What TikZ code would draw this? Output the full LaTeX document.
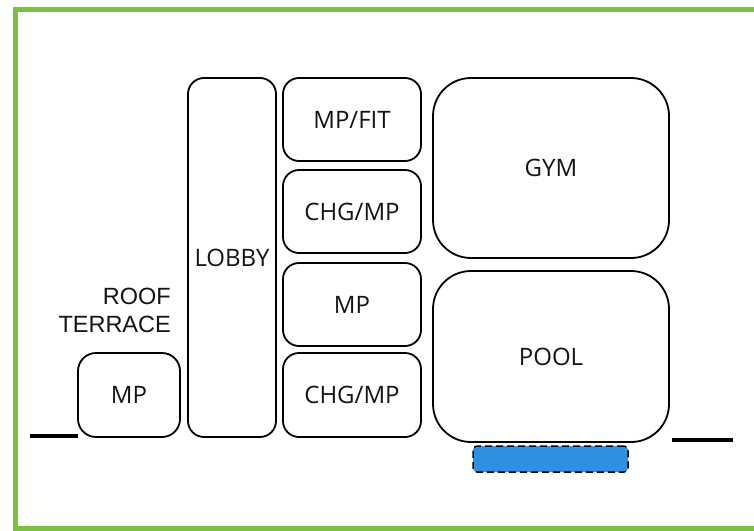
\documentclass[tikz,border=0pt]{standalone}
\usepackage{fontspec}
\setmainfont{Open Sans}
\newfontfamily\arialf{Liberation Sans}
\definecolor{framegreen}{HTML}{7CC142}
\definecolor{poolblue}{HTML}{2F8FE3}
\begin{document}
\begin{tikzpicture}[x=1pt,y=-1pt,
  room/.style={draw=black,line width=1.8pt,rectangle,inner sep=0pt,outer sep=0pt,
    font=\fontsize{24}{28}\selectfont,text=black!92},
  wallline/.style={line width=3.5pt,black}]
\useasboundingbox (0,0) rectangle (754,530);
\fill[white] (0,0) rectangle (754,530);
\draw[framegreen,line width=5pt] (15.5,9.5) rectangle (770,528);
% rooms
\node[room,rounded corners=18pt,minimum width=102pt,minimum height=84pt] (mpa) at (129,395) {MP};
\node[room,rounded corners=16pt,minimum width=88pt,minimum height=359pt] (lobby) at (232,257.5) {LOBBY};
\node[room,rounded corners=16pt,minimum width=138pt,minimum height=83pt] (mpfit) at (352,119.5) {MP/FIT};
\node[room,rounded corners=16pt,minimum width=138pt,minimum height=83pt] (chga) at (352,211.5) {CHG/MP};
\node[room,rounded corners=16pt,minimum width=138pt,minimum height=83pt] (mpb) at (352,304.5) {MP};
\node[room,rounded corners=16pt,minimum width=138pt,minimum height=84pt] (chgb) at (352,395) {CHG/MP};
\node[room,rounded corners=38pt,minimum width=236pt,minimum height=180pt] (gym) at (551,168) {GYM};
\node[room,rounded corners=38pt,minimum width=236pt,minimum height=171pt] (pool) at (551,356.5) {POOL};
\node[draw=black,fill=poolblue,dash pattern=on 7pt off 4pt,line width=1.5pt,rounded corners=4pt,inner sep=0pt,
  minimum width=155pt,minimum height=26pt] (blue) at (550.5,459) {};
% roof terrace label
\node[anchor=east,align=right,inner sep=0pt,text=black!92,
  font=\arialf\fontsize{23.5}{28}\selectfont] (roof) at (171,310) {ROOF\\TERRACE};
% wall lines
\coordinate (la) at (30,436);
\coordinate (ra) at (733,440);
\draw[wallline] (la) -- (mpa.south west |- la);
\draw[wallline] (pool.south east |- ra) ++(3,0) -- (ra);
\end{tikzpicture}
\end{document}
